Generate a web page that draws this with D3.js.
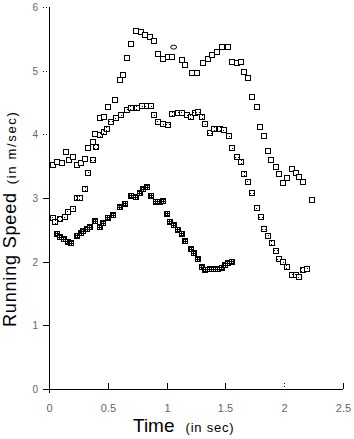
<!DOCTYPE html>
<html>
<head>
<meta charset="utf-8">
<script src="https://cdn.jsdelivr.net/npm/d3@7"></script>
<style>
  body { margin: 0; background: #fff; }
  svg { display: block; }
  text { font-family: "Liberation Sans", Arial, sans-serif; }
</style>
</head>
<body>
<div id="view"></div>
<script>
// --- data ---
const timeA  = [0.03,0.07,0.11,0.145,0.17,0.20,0.24,0.27,0.31,0.33,0.37,0.39,0.43,0.47,0.50,0.56,0.60,0.63,0.66,0.70,0.74,0.78,0.82,0.86,0.89,0.93,0.97,1.01,1.05,1.13,1.16,1.22,1.26,1.31,1.35,1.39,1.43,1.47,1.52,1.56,1.60,1.63,1.66,1.69,1.73,1.77,1.79,1.83,1.86,1.89,1.93,1.96,1.99,2.02,2.07,2.10,2.13,2.16,2.24];
const speedA = [3.52,3.56,3.55,3.72,3.60,3.64,3.52,3.55,3.62,3.78,3.88,4.00,4.25,4.28,4.43,4.54,4.85,4.93,5.20,5.42,5.62,5.60,5.56,5.53,5.46,5.26,5.18,5.21,5.21,5.16,5.09,4.96,4.96,5.12,5.18,5.24,5.29,5.37,5.37,5.13,5.12,5.13,4.98,4.88,4.58,4.43,4.11,3.97,3.74,3.60,3.49,3.37,3.23,3.31,3.45,3.39,3.33,3.25,2.97];

const timeB  = [0.03,0.05,0.09,0.14,0.16,0.20,0.24,0.26,0.31,0.33,0.37,0.40,0.43,0.47,0.49,0.53,0.57,0.61,0.66,0.70,0.75,0.79,0.83,0.87,0.89,0.93,0.97,1.01,1.05,1.10,1.13,1.17,1.21,1.24,1.27,1.30,1.33,1.37,1.40,1.45,1.49,1.53,1.56,1.60,1.63,1.66,1.69,1.73,1.77,1.80,1.83,1.86,1.90,1.93,1.96,1.99,2.02,2.07,2.10,2.13,2.16,2.19];
const speedB = [2.68,2.62,2.67,2.70,2.78,2.83,3.00,3.00,3.14,3.40,3.60,3.80,3.99,4.04,4.08,4.19,4.25,4.30,4.38,4.41,4.42,4.44,4.44,4.44,4.30,4.19,4.17,4.14,4.32,4.33,4.33,4.30,4.27,4.33,4.35,4.27,4.17,4.02,4.08,4.08,4.07,3.97,3.78,3.64,3.56,3.38,3.25,3.08,2.84,2.70,2.51,2.40,2.29,2.17,2.04,2.00,1.91,1.79,1.79,1.76,1.87,1.88];

const timeC  = [0.07,0.09,0.13,0.16,0.19,0.24,0.27,0.29,0.32,0.35,0.39,0.43,0.46,0.50,0.54,0.60,0.65,0.70,0.74,0.77,0.80,0.83,0.87,0.91,0.94,0.97,1.00,1.03,1.06,1.10,1.13,1.16,1.21,1.23,1.27,1.30,1.33,1.37,1.40,1.44,1.47,1.50,1.52,1.56];
const speedC = [2.43,2.39,2.35,2.31,2.30,2.40,2.45,2.48,2.52,2.55,2.64,2.55,2.60,2.68,2.74,2.86,2.90,3.03,3.01,3.08,3.14,3.17,3.03,2.94,2.94,2.95,2.75,2.62,2.57,2.50,2.43,2.32,2.20,2.13,2.04,1.92,1.87,1.88,1.88,1.88,1.90,1.95,1.98,2.00];

// one stray point drawn as a circle
const circleTime = [1.06];
const circleSpeed = [5.37];

const xTicks = [0, 0.5, 1, 1.5, 2, 2.5];
const yTicks = [0, 1, 2, 3, 4, 5, 6];
const dottedX = [2];
const dottedY = [4, 5, 6];

const W = 354, H = 439;
const svg = d3.select("#view").append("svg").attr("width", W).attr("height", H);

// fill patterns for markers
const defs = svg.append("defs");
const pc = defs.append("pattern").attr("id", "dark").attr("width", 2).attr("height", 2)
  .attr("patternUnits", "userSpaceOnUse");
pc.append("rect").attr("width", 2).attr("height", 2).attr("fill", "#000");
pc.append("rect").attr("width", 1).attr("height", 1).attr("fill", "#fff");
const pb = defs.append("pattern").attr("id", "light").attr("width", 3).attr("height", 3)
  .attr("patternUnits", "userSpaceOnUse");
pb.append("rect").attr("width", 3).attr("height", 3).attr("fill", "#fff");
pb.append("rect").attr("x", 1).attr("y", 1).attr("width", 1).attr("height", 1).attr("fill", "#000");

const x = d3.scaleLinear().domain([0, 2.5]).range([49, 343]);
const y = d3.scaleLinear().domain([0, 6]).range([389, 7]);

// axes lines
svg.append("line").attr("x1", 49.5).attr("x2", 49.5).attr("y1", 7).attr("y2", 393)
  .attr("stroke", "#000");
svg.append("line").attr("x1", 45).attr("x2", 343).attr("y1", 389.5).attr("y2", 389.5)
  .attr("stroke", "#000");

// y ticks (outside, left)
const yt = svg.append("g");
yTicks.forEach(v => {
  const py = Math.round(y(v)) + 0.5;
  yt.append("line").attr("x1", 43).attr("x2", 49).attr("y1", py).attr("y2", py)
    .attr("stroke", "#000")
    .attr("stroke-dasharray", dottedY.includes(v) ? "1,2" : null);
  yt.append("text").attr("x", 38).attr("y", py).attr("dy", "0.35em")
    .attr("text-anchor", "end").attr("fill", "#666").style("font-size", "10px")
    .text(d3.format("~g")(v));
});

// x ticks (inside, up)
const xt = svg.append("g");
xTicks.forEach(v => {
  const px = Math.round(x(v)) + 0.5;
  if (v > 0) {
    xt.append("line").attr("x1", px).attr("x2", px).attr("y1", 383).attr("y2", 389)
      .attr("stroke", "#000")
      .attr("stroke-dasharray", dottedX.includes(v) ? "1,2" : null);
  }
  xt.append("text").attr("x", px).attr("y", 412)
    .attr("text-anchor", "middle").attr("fill", "#666").style("font-size", "11px")
    .text(d3.format("~g")(v));
});

// axis titles
const ty = svg.append("text")
  .attr("transform", "translate(16,327) rotate(-90)")
  .attr("fill", "#000");
ty.append("tspan").style("font-size", "18px").attr("textLength", 134).attr("lengthAdjust", "spacing")
  .text("Running Speed");
ty.append("tspan").attr("dx", 8).style("font-size", "13px").attr("textLength", 72)
  .attr("lengthAdjust", "spacing").text("(in m/sec)");

const tx = svg.append("text").attr("x", 133).attr("y", 432).attr("fill", "#000");
tx.append("tspan").style("font-size", "19px").text("Time");
tx.append("tspan").attr("dx", 11).style("font-size", "13px").attr("textLength", 48)
  .attr("lengthAdjust", "spacing").text("(in sec)");

// markers
const S = 6;
function drawSeries(ts, vs, fill) {
  const pts = ts.map((t, i) => ({ t, v: vs[i] }));
  svg.append("g").selectAll("rect").data(pts).join("rect")
    .attr("x", d => Math.round(x(d.t) - S / 2) + 0.5)
    .attr("y", d => Math.round(y(d.v) - S / 2) + 0.5)
    .attr("width", S - 1).attr("height", S - 1)
    .attr("fill", fill).attr("stroke", "#000").attr("stroke-width", 1)
    .attr("shape-rendering", "crispEdges");
}
drawSeries(timeA, speedA, "#fff");
drawSeries(timeB, speedB, "url(#light)");
drawSeries(timeC, speedC, "url(#dark)");

svg.append("g").selectAll("ellipse").data(circleTime).join("ellipse")
  .attr("cx", (d) => x(d)).attr("cy", (d, i) => y(circleSpeed[i]))
  .attr("rx", 3).attr("ry", 2).attr("fill", "#fff").attr("stroke", "#000");
</script>
</body>
</html>
